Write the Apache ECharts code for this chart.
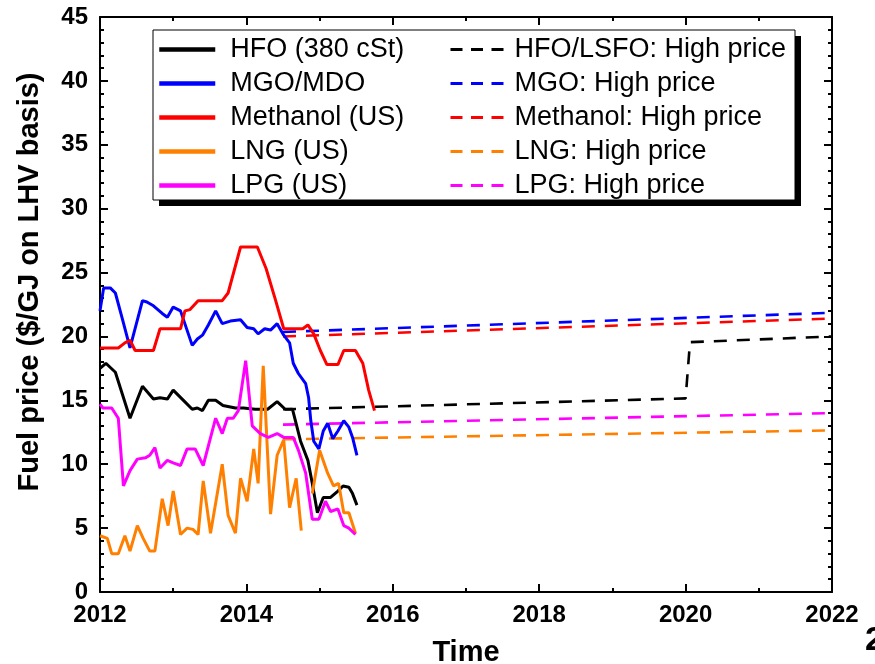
<!DOCTYPE html>
<html>
<head>
<meta charset="utf-8">
<script src="https://cdn.jsdelivr.net/npm/echarts@6/dist/echarts.min.js"></script>
<style>html,body{margin:0;padding:0;background:#fff}#c{width:875px;height:664px}</style>
</head>
<body>
<div id="c"></div>
<script>
// ---- data ----
const hfoT = [2012.0,2012.08,2012.21,2012.41,2012.58,2012.73,2012.82,2012.92,2013.0,2013.14,2013.26,2013.33,2013.4,2013.48,2013.58,2013.68,2013.85,2013.96,2014.12,2014.29,2014.42,2014.53,2014.63,2014.67,2014.74,2014.84,2014.9,2014.97,2015.05,2015.15,2015.25,2015.32,2015.4,2015.45,2015.51];
const hfoV = [17.5,17.9,17.2,13.6,16.1,15.1,15.2,15.1,15.8,15.0,14.3,14.4,14.2,15.0,15.0,14.6,14.4,14.4,14.3,14.3,14.9,14.3,14.3,13.4,11.8,10.3,8.5,6.2,7.4,7.4,7.9,8.3,8.2,7.7,6.8];

const mgoT = [2012.0,2012.05,2012.14,2012.21,2012.3,2012.41,2012.58,2012.64,2012.73,2012.85,2012.92,2013.0,2013.1,2013.26,2013.33,2013.4,2013.48,2013.58,2013.67,2013.78,2013.92,2014.01,2014.1,2014.16,2014.25,2014.33,2014.42,2014.51,2014.59,2014.64,2014.71,2014.81,2014.85,2014.88,2014.92,2014.99,2015.05,2015.11,2015.18,2015.25,2015.33,2015.4,2015.45,2015.51];
const mgoV = [22.0,23.8,23.8,23.4,21.5,19.1,22.8,22.7,22.4,21.8,21.5,22.3,22.0,19.3,19.8,20.1,20.9,22.0,21.0,21.2,21.3,20.7,20.6,20.2,20.6,20.5,21.0,20.1,19.5,17.9,17.1,16.3,15.2,13.4,11.8,11.2,12.6,13.2,12.0,12.6,13.4,12.9,12.1,10.7];

const methT = [2012.0,2012.25,2012.34,2012.41,2012.48,2012.73,2012.82,2013.1,2013.16,2013.23,2013.34,2013.67,2013.75,2013.92,2014.15,2014.27,2014.4,2014.51,2014.77,2014.84,2014.92,2015.01,2015.1,2015.25,2015.33,2015.49,2015.59,2015.67,2015.75];
const methV = [19.1,19.1,19.5,19.7,18.9,18.9,20.6,20.6,22.0,22.1,22.8,22.8,23.4,27.0,27.0,25.3,22.8,20.6,20.6,20.9,20.2,18.9,17.8,17.8,18.9,18.9,17.9,15.8,14.2];

const lngT = [2012.0,2012.1,2012.16,2012.25,2012.34,2012.41,2012.51,2012.59,2012.68,2012.75,2012.85,2012.93,2013.0,2013.1,2013.19,2013.27,2013.34,2013.41,2013.51,2013.67,2013.75,2013.85,2013.92,2014.01,2014.1,2014.16,2014.23,2014.33,2014.42,2014.51,2014.59,2014.68,2014.75,2014.82,2014.9,2015.0,2015.11,2015.19,2015.26,2015.33,2015.4,2015.49];
const lngV = [4.4,4.2,3.0,3.0,4.4,3.2,5.2,4.2,3.2,3.2,7.3,5.2,7.9,4.5,5.0,4.9,4.5,8.7,4.6,10.0,6.0,4.6,8.9,7.1,11.2,8.5,17.7,6.1,10.7,11.9,6.6,8.9,4.8,null,7.7,11.1,9.3,8.3,8.5,6.2,6.2,4.6];

const lpgT = [2012.0,2012.04,2012.16,2012.25,2012.32,2012.41,2012.51,2012.62,2012.68,2012.75,2012.82,2012.92,2013.0,2013.1,2013.19,2013.3,2013.41,2013.58,2013.67,2013.74,2013.82,2013.89,2013.99,2014.08,2014.19,2014.3,2014.42,2014.51,2014.64,2014.71,2014.81,2014.9,2014.99,2015.08,2015.15,2015.25,2015.33,2015.4,2015.49];
const lpgV = [14.7,14.4,14.4,13.6,8.3,9.5,10.4,10.5,10.7,11.3,9.7,10.3,10.1,9.9,11.2,11.2,9.9,13.6,12.4,13.6,13.6,14.2,18.1,13.0,12.4,12.1,12.4,12.1,12.1,11.1,9.3,5.7,5.7,7.1,6.3,6.5,5.2,5.0,4.5];

// high-price projections
const hfoHighT = [2014.5,2020.0,2020.06,2022.0];
const hfoHighV = [14.3,15.15,19.55,20.0];
const mgoHighT = [2014.5,2022.0];
const mgoHighV = [20.35,21.85];
const methHighT = [2014.5,2022.0];
const methHighV = [20.0,21.4];
const lngHighT = [2014.5,2022.0];
const lngHighV = [11.95,12.65];
const lpgHighT = [2014.5,2022.0];
const lpgHighV = [13.1,14.0];

const solidNames = ['HFO (380 cSt)','MGO/MDO','Methanol (US)','LNG (US)','LPG (US)'];
const dashNames = ['HFO/LSFO: High price','MGO: High price','Methanol: High price','LNG: High price','LPG: High price'];
const colors = ['#000000','#0000ff','#ff0000','#ff8000','#ff00ff'];
const yTitle = 'Fuel price ($/GJ on LHV basis)';
const xTitle = 'Time';

// ---- build ----
const zip = (t, v) => t.map((x, i) => [x, v[i] === null ? null : v[i]]);
const solidData = [zip(hfoT,hfoV), zip(mgoT,mgoV), zip(methT,methV), zip(lngT,lngV), zip(lpgT,lpgV)];
const dashData = [zip(hfoHighT,hfoHighV), zip(mgoHighT,mgoHighV), zip(methHighT,methHighV), zip(lngHighT,lngHighV), zip(lpgHighT,lpgHighV)];

const FONT = "'Liberation Sans', Arial, sans-serif";
const series = [];
dashNames.forEach((n, i) => series.push({
  name: n, type: 'line', data: dashData[i], symbol: 'none', z: 2,
  lineStyle: { color: colors[i], width: 2.6, type: [13, 10] }, itemStyle: { color: colors[i] },
  animation: false
}));
solidNames.forEach((n, i) => series.push({
  name: n, type: 'line', data: solidData[i], symbol: 'none', connectNulls: false, z: 3,
  lineStyle: { color: colors[i], width: 3 }, itemStyle: { color: colors[i] },
  animation: false
}));

const axisCommon = {
  type: 'value',
  axisLine: { show: true, onZero: false, lineStyle: { color: '#000', width: 2 } },
  axisTick: { show: true, inside: true, length: 8, lineStyle: { color: '#000', width: 2 } },
  minorTick: { show: true, length: 4, lineStyle: { color: '#000', width: 2 } },
  splitLine: { show: false }
};
const labelStyle = { color: '#000', fontFamily: FONT, fontWeight: 'bold', fontSize: 24, formatter: v => String(v) };

const chart = echarts.init(document.getElementById('c'), null, { renderer: 'canvas' });
chart.setOption({
  animation: false,
  backgroundColor: '#fff',
  grid: { left: 100, right: 43, top: 17, bottom: 72, containLabel: false, outerBoundsMode: 'none' },
  xAxis: [
    Object.assign({}, axisCommon, { position: 'bottom', min: 2012, max: 2022, interval: 2,
      minorTick: Object.assign({}, axisCommon.minorTick, { splitNumber: 2 }),
      axisLabel: Object.assign({ margin: 11 }, labelStyle),
      name: xTitle, nameLocation: 'middle', nameGap: 46,
      nameTextStyle: { color: '#000', fontFamily: FONT, fontWeight: 'bold', fontSize: 29 } }),
    Object.assign({}, axisCommon, { position: 'top', min: 2012, max: 2022, interval: 2,
      minorTick: Object.assign({}, axisCommon.minorTick, { splitNumber: 2 }),
      axisLabel: { show: false } })
  ],
  yAxis: [
    Object.assign({}, axisCommon, { position: 'left', min: 0, max: 45, interval: 5,
      minorTick: Object.assign({}, axisCommon.minorTick, { splitNumber: 5 }),
      axisLabel: Object.assign({ margin: 12 }, labelStyle) }),
    Object.assign({}, axisCommon, { position: 'right', min: 0, max: 45, interval: 5,
      minorTick: Object.assign({}, axisCommon.minorTick, { splitNumber: 5 }),
      axisLabel: { show: false } })
  ],
  legend: [
    { data: solidNames, orient: 'vertical', left: 157, top: 36, padding: 0, itemGap: 7,
      itemWidth: 56, itemHeight: 24, z: 10,
      itemStyle: { opacity: 0, borderWidth: 0 },
      lineStyle: { width: 4.5, type: 'solid' },
      textStyle: { color: '#000', fontFamily: FONT, fontSize: 27, lineHeight: 24, padding: [0,0,0,10] } },
    { data: dashNames, orient: 'vertical', left: 449, top: 36, padding: 0, itemGap: 7,
      itemWidth: 53, itemHeight: 24, z: 10,
      itemStyle: { opacity: 0, borderWidth: 0 },
      lineStyle: { width: 3, type: [12, 8.5] },
      textStyle: { color: '#000', fontFamily: FONT, fontSize: 27, lineHeight: 24, padding: [0,0,0,6] } }
  ],
  graphic: [
    { type: 'rect', z: 5, silent: true, shape: { x: 159, y: 36, width: 642, height: 170 }, style: { fill: '#000' } },
    { type: 'rect', z: 6, silent: true, shape: { x: 153, y: 30, width: 642, height: 170 }, style: { fill: '#fff', stroke: '#000', lineWidth: 1 } },
    { type: 'text', z: 6, silent: true, x: 30, y: 282, rotation: Math.PI / 2,
      style: { text: yTitle, fill: '#000', font: "bold 29px 'Liberation Sans', Arial, sans-serif", align: 'center', verticalAlign: 'middle' } },
    { type: 'text', z: 6, silent: true, x: 865, y: 641,
      style: { text: '2', fill: '#000', font: "bold 34px 'Liberation Sans', Arial, sans-serif", align: 'left', verticalAlign: 'middle' } }
  ],
  series: series
});
</script>
</body>
</html>
